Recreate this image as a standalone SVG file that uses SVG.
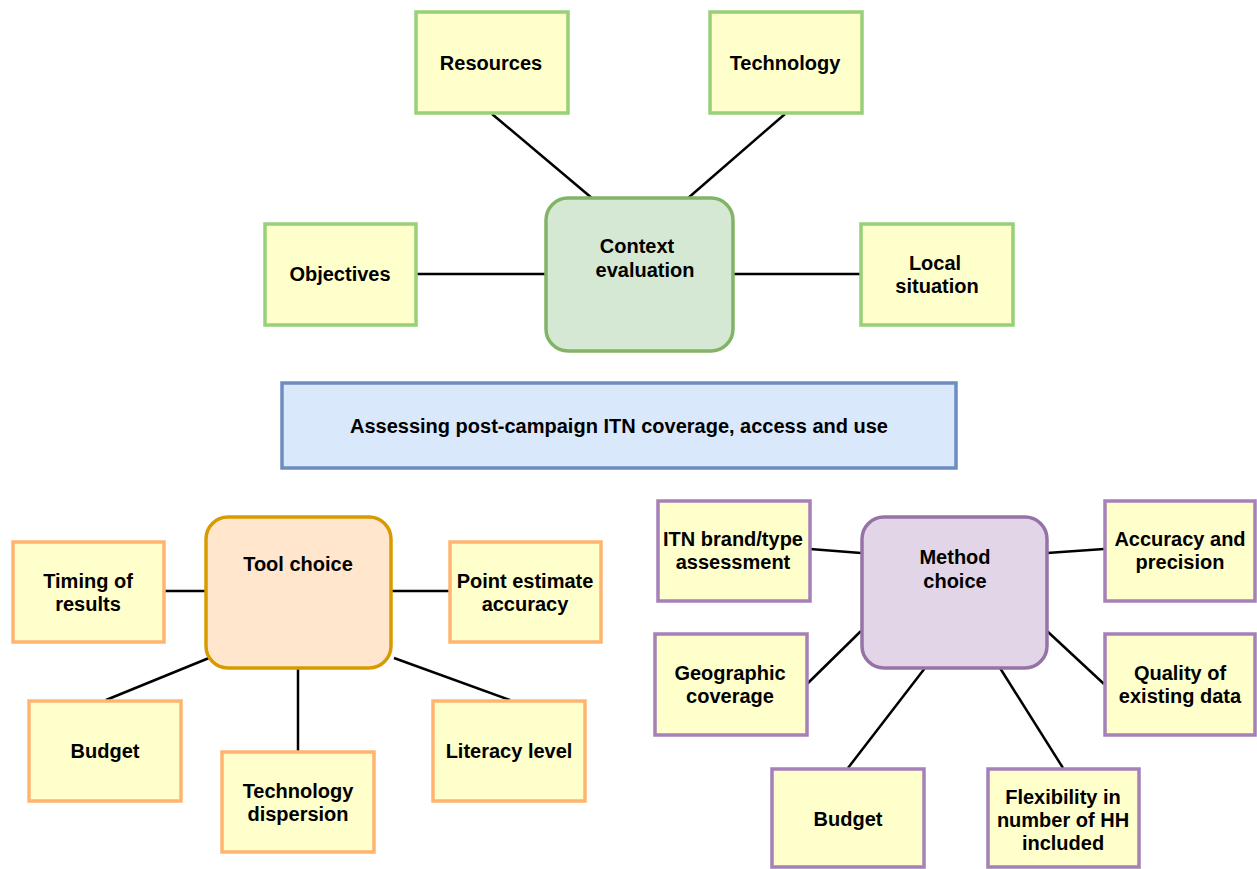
<svg xmlns="http://www.w3.org/2000/svg" width="1257" height="869" viewBox="0 0 1257 869">
<style>
text{font-family:"Liberation Sans",Arial,Helvetica,sans-serif;font-weight:bold;font-size:20px;fill:#000;text-anchor:middle}
.leaf{fill:#ffffcc;stroke-width:3.5}
.g{stroke:#97d077}
.o{stroke:#ffb570}
.p{stroke:#a680b8}
.hub{stroke-width:3.5}
.conn line{stroke:#000;stroke-width:2.5}
</style>
<rect width="1257" height="869" fill="#ffffff"/>
<g class="conn" id="connectors">
<line x1="492" y1="114" x2="593" y2="199"/>
<line x1="785" y1="114" x2="687" y2="199"/>
<line x1="416" y1="274" x2="546" y2="274"/>
<line x1="733" y1="274" x2="860" y2="274"/>
<line x1="164" y1="591" x2="205" y2="591"/>
<line x1="391" y1="591" x2="449" y2="591"/>
<line x1="106" y1="700" x2="209" y2="658"/>
<line x1="298" y1="751" x2="298" y2="668"/>
<line x1="510" y1="700" x2="394" y2="658"/>
<line x1="810" y1="549" x2="861" y2="553"/>
<line x1="1047" y1="553" x2="1104" y2="549"/>
<line x1="807" y1="684" x2="861" y2="631"/>
<line x1="1047" y1="631" x2="1104" y2="684"/>
<line x1="848" y1="768" x2="925" y2="668"/>
<line x1="1063" y1="768" x2="1000" y2="668"/>
</g>
<g id="resources"><rect class="leaf g" x="416" y="12" width="152" height="101"/><text x="491" y="70">Resources</text></g>
<g id="technology"><rect class="leaf g" x="710" y="12" width="152" height="101"/><text x="785" y="70">Technology</text></g>
<g id="objectives"><rect class="leaf g" x="265" y="224" width="151" height="101"/><text x="340" y="281">Objectives</text></g>
<g id="context"><rect class="hub" x="546" y="198" width="187" height="153" rx="22" fill="#d5e8d4" stroke="#82b366"/><text x="637" y="253">Context</text><text x="645" y="277">evaluation</text></g>
<g id="local"><rect class="leaf g" x="861" y="224" width="152" height="101"/><text x="935" y="270">Local</text><text x="937" y="293">situation</text></g>
<g id="banner"><rect x="282" y="383" width="674" height="85" fill="#dae8fc" stroke="#6c8ebf" stroke-width="3.5"/><text x="619" y="433">Assessing post-campaign ITN coverage, access and use</text></g>
<g id="tool"><rect class="hub" x="206" y="517" width="185" height="151" rx="22" fill="#ffe6cc" stroke="#d79b00"/><text x="298" y="571">Tool choice</text></g>
<g id="timing"><rect class="leaf o" x="13" y="542" width="151" height="100"/><text x="88" y="588">Timing of</text><text x="88" y="611">results</text></g>
<g id="point"><rect class="leaf o" x="450" y="542" width="151" height="100"/><text x="525" y="588">Point estimate</text><text x="525" y="611">accuracy</text></g>
<g id="budget1"><rect class="leaf o" x="29" y="701" width="152" height="100"/><text x="105" y="758">Budget</text></g>
<g id="techdisp"><rect class="leaf o" x="222" y="752" width="152" height="100"/><text x="298" y="798">Technology</text><text x="298" y="821">dispersion</text></g>
<g id="literacy"><rect class="leaf o" x="433" y="701" width="152" height="100"/><text x="509" y="758">Literacy level</text></g>
<g id="method"><rect class="hub" x="862" y="517" width="185" height="151" rx="22" fill="#e1d5e7" stroke="#9673a6"/><text x="955" y="564">Method</text><text x="955" y="588">choice</text></g>
<g id="itn"><rect class="leaf p" x="658" y="501" width="152" height="100"/><text x="733" y="546">ITN brand/type</text><text x="733" y="569">assessment</text></g>
<g id="accuracy"><rect class="leaf p" x="1105" y="501" width="150" height="100"/><text x="1180" y="546">Accuracy and</text><text x="1180" y="569">precision</text></g>
<g id="geographic"><rect class="leaf p" x="655" y="634" width="152" height="101"/><text x="730" y="680">Geographic</text><text x="730" y="703">coverage</text></g>
<g id="quality"><rect class="leaf p" x="1105" y="634" width="150" height="101"/><text x="1180" y="680">Quality of</text><text x="1180" y="703">existing data</text></g>
<g id="budget2"><rect class="leaf p" x="772" y="769" width="152" height="98"/><text x="848" y="826">Budget</text></g>
<g id="flexibility"><rect class="leaf p" x="988" y="769" width="151" height="98"/><text x="1063" y="804">Flexibility in</text><text x="1063" y="827">number of HH</text><text x="1063" y="850">included</text></g>
</svg>
